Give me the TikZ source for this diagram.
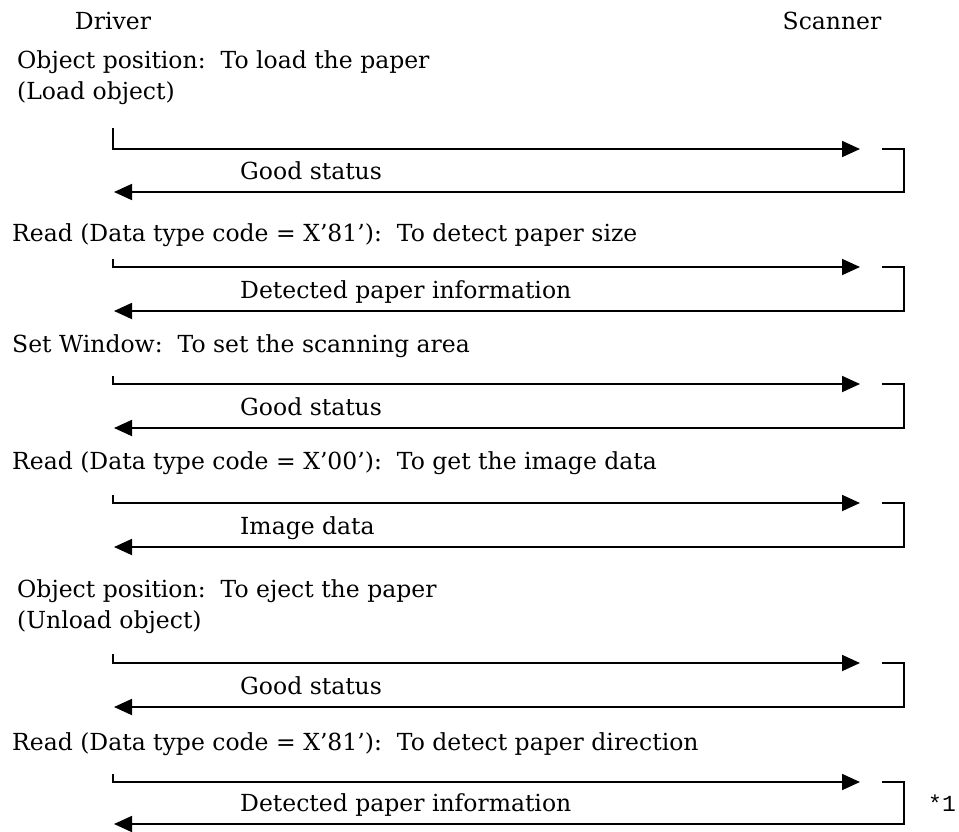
\documentclass[tikz,border=0pt]{standalone}
\usepackage{fontspec}
\newfontfamily\labelfont{DejaVu Serif}
\newfontfamily\notefont{Liberation Mono}
\usetikzlibrary{arrows.meta}
\newcommand\drawexchange[5]{%
  \coordinate (t#1) at (113,#2);
  \coordinate (a#1) at (113,#3);
  \coordinate (e#1) at (860,#3);
  \coordinate (b#1) at (882,#3);
  \coordinate (c#1) at (904,#3);
  \coordinate (d#1) at (904,#4);
  \coordinate (r#1) at (114,#4);
  \draw[arr] (t#1) -- (a#1) -- (e#1);
  \draw[arr] (b#1) -- (c#1) -- (d#1) -- (r#1);
  \node[txt] (g#1) at (240,#4-13) {#5};
}
\begin{document}
\begin{tikzpicture}[x=1pt,y=-1pt,
  txt/.style={anchor=base west,inner sep=0pt,font=\labelfont\fontsize{23.5}{27}\selectfont},
  arr/.style={line width=1.8pt,-{Triangle[length=18pt,width=16pt]}}]
\useasboundingbox (0,0) rectangle (959,831);
\node[txt,anchor=base] (driver) at (113,29) {Driver};
\node[txt,anchor=base] (scanner) at (832,29) {Scanner};
% block 1
\node[txt] (h1a) at (17,68) {Object position:~~To load the paper};
\node[txt] (h1b) at (17,99) {(Load object)};
\drawexchange{1}{128}{149}{192}{Good status}
% block 2
\node[txt] (h2) at (12,241) {Read (Data type code = X’81’):~~To detect paper size};
\drawexchange{2}{259}{267}{311}{Detected paper information}
% block 3
\node[txt] (h3) at (12,352) {Set Window:~~To set the scanning area};
\drawexchange{3}{376}{384}{428}{Good status}
% block 4
\node[txt] (h4) at (12,469) {Read (Data type code = X’00’):~~To get the image data};
\drawexchange{4}{495}{503}{547}{Image data}
% block 5
\node[txt] (h5a) at (17,597) {Object position:~~To eject the paper};
\node[txt] (h5b) at (17,628) {(Unload object)};
\drawexchange{5}{654}{663}{707}{Good status}
% block 6
\node[txt] (h6) at (12,750) {Read (Data type code = X’81’):~~To detect paper direction};
\drawexchange{6}{774}{782}{824}{Detected paper information}
\node[anchor=base,inner sep=0pt,font=\notefont\fontsize{23}{27}\selectfont] (note) at (942,811) {*1};
\end{tikzpicture}
\end{document}
